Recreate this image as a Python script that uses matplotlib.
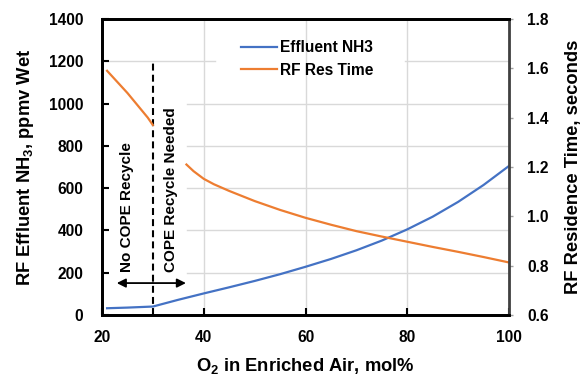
import matplotlib
matplotlib.use("Agg")
import matplotlib.pyplot as plt

plt.rcParams['font.family'] = ['Liberation Sans', 'DejaVu Sans']
plt.rcParams['font.weight'] = 'bold'
plt.rcParams['axes.labelweight'] = 'bold'
plt.rcParams['mathtext.fontset'] = 'custom'
plt.rcParams['mathtext.rm'] = 'Liberation Sans:bold'
plt.rcParams['mathtext.bf'] = 'Liberation Sans:bold'
plt.rcParams['mathtext.it'] = 'Liberation Sans:bold'
plt.rcParams['mathtext.default'] = 'rm'
plt.rcParams['lines.scale_dashes'] = False

# Data
nh3_x = [21, 25, 30, 35, 40, 45, 50, 55, 60, 65, 70, 75, 80, 85, 90, 95, 100]
nh3_y = [32, 35, 40, 72, 102, 131, 161, 193, 228, 265, 306, 352, 405, 465, 535, 615, 705]

res1_x = [21, 23, 25, 27, 29, 30]
res1_y = [1.59, 1.545, 1.50, 1.45, 1.40, 1.37]
res2_x = [36.6, 38, 40, 42, 45, 50, 55, 60, 65, 70, 75, 80, 85, 90, 95, 100]
res2_y = [1.21, 1.183, 1.152, 1.13, 1.103, 1.062, 1.026, 0.994, 0.966, 0.940, 0.918, 0.897, 0.876, 0.856, 0.835, 0.813]

x_ticks = [20, 40, 60, 80, 100]
y_ticks = [0, 200, 400, 600, 800, 1000, 1200, 1400]
y2_ticks = [0.6, 0.8, 1.0, 1.2, 1.4, 1.6, 1.8]

boundary_x = 30
arrow_y = 151
arrow_left = 22.9
arrow_right = 36.5

blue = '#4472C4'
orange = '#ED7D31'
grid_c = '#D9D9D9'

fig = plt.figure(figsize=(5.87, 3.79), dpi=100)
ax = fig.add_axes([102/587, 1-315/379, 407/587, 296/379])
ax2 = ax.twinx()

ax.set_xlim(20, 100)
ax.set_ylim(0, 1400)
ax2.set_ylim(0.6, 1.8)

# grid lines (partially covered in original)
for v in [40, 60, 80]:
    ax.axvline(v, color=grid_c, lw=1, zorder=0)
for v in [200, 400, 600, 800, 1000]:
    ax.axhline(v, xmin=(187-102)/407, xmax=1, color=grid_c, lw=1, zorder=0)
ax.axhline(1200, xmin=0, xmax=(215-102)/407, color=grid_c, lw=1, zorder=0)
ax.axhline(1200, xmin=(405-102)/407, xmax=1, color=grid_c, lw=1, zorder=0)

l1, = ax.plot(nh3_x, nh3_y, color=blue, lw=1.6, label='Effluent NH3', zorder=3)
l2, = ax2.plot(res1_x, res1_y, color=orange, lw=1.6, label='RF Res Time')
ax2.plot(res2_x, res2_y, color=orange, lw=1.6)

ax.plot([boundary_x, boundary_x], [0, 1200], color='black', lw=1.5, dashes=(5, 3), zorder=4)
ax.annotate('', xy=(arrow_left, arrow_y), xytext=(boundary_x, arrow_y),
            arrowprops=dict(arrowstyle='-|>', color='black', lw=1.3, mutation_scale=13, shrinkA=0, shrinkB=0))
ax.annotate('', xy=(arrow_right, arrow_y), xytext=(boundary_x, arrow_y),
            arrowprops=dict(arrowstyle='-|>', color='black', lw=1.3, mutation_scale=13, shrinkA=0, shrinkB=0))

ax.text(25.0, 205, 'No COPE Recycle', rotation=90, ha='center', va='bottom', fontsize=11)
ax.text(33.5, 205, 'COPE Recycle Needed', rotation=90, ha='center', va='bottom', fontsize=11)

ax.set_xticks(x_ticks)
ax.set_yticks(y_ticks)
ax2.set_yticks(y2_ticks)
ax2.set_yticklabels(['%.1f' % v for v in y2_ticks])

ax.tick_params(axis='y', direction='in', length=5, width=1.5, pad=13.5, labelsize=11.2, color='black')
ax.tick_params(axis='x', direction='in', length=5, width=1.5, pad=11, labelsize=11.2, color='black')
ax2.tick_params(axis='y', direction='out', length=3, width=1, pad=10, labelsize=11.2, color='#A0A0A0')

for s in ['left', 'bottom', 'top']:
    ax.spines[s].set_linewidth(2)
    ax.spines[s].set_color('black')
    ax2.spines[s].set_linewidth(2)
    ax2.spines[s].set_color('black')
ax2.spines['right'].set_linewidth(2)
ax2.spines['right'].set_color('#404040')
ax.spines['right'].set_visible(False)

ax.set_xlabel(r'O$_2$ in Enriched Air, mol%', fontsize=13.2, labelpad=8)
ax.set_ylabel(r'RF Effluent NH$_3$, ppmv Wet', fontsize=13.2, labelpad=9)
ax2.set_ylabel('RF Residence Time, seconds', fontsize=13.2, labelpad=12)

leg = ax.legend([l1, l2], ['Effluent NH3', 'RF Res Time'], loc='upper left',
                bbox_to_anchor=((241-102)/407, 1-(40-19)/296), frameon=False,
                fontsize=11.2, handlelength=2.3, handletextpad=0.2, labelspacing=0.5,
                borderaxespad=0, borderpad=0)

fig.savefig('out.png', dpi=100)
